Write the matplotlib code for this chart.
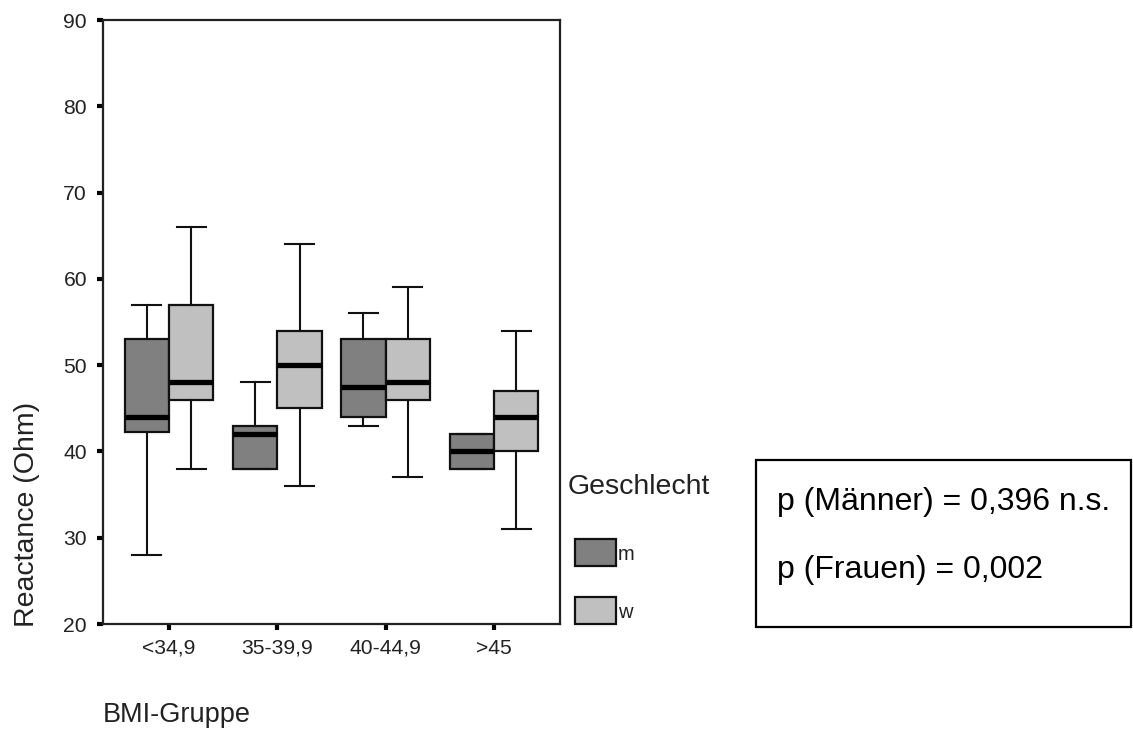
import numpy as np
import matplotlib.pyplot as plt
from matplotlib.patches import Rectangle

plt.rcParams['font.family'] = ['Liberation Sans', 'DejaVu Sans']

# BMI-Gruppen und Kennwerte der Boxplots (Reactance in Ohm)
gruppen = ['<34,9', '35-39,9', '40-44,9', '>45']

m_min = [28, 38, 43, 38]
m_q1 = [42.3, 38, 44, 38]
m_med = [44, 42, 47.5, 40]
m_q3 = [53, 43, 53, 42]
m_max = [57, 48, 56, 42]

w_min = [38, 36, 37, 31]
w_q1 = [46, 45, 46, 40]
w_med = [48, 50, 48, 44]
w_q3 = [57, 54, 53, 47]
w_max = [66, 64, 59, 54]

geschlecht = ['m', 'w']
farbe_m = '#808080'
farbe_w = '#c0c0c0'


def stats(lo, q1, med, q3, hi):
    return [dict(whislo=a, q1=b, med=c, q3=d, whishi=e, fliers=[])
            for a, b, c, d, e in zip(lo, q1, med, q3, hi)]


fig = plt.figure(figsize=(11.33, 7.34), dpi=100)
ax = fig.add_axes([103 / 1133, 1 - 624 / 734, 457 / 1133, 604 / 734])

x = np.arange(len(gruppen))
breite = 0.41
for werte, farbe, dx in [((m_min, m_q1, m_med, m_q3, m_max), farbe_m, -breite / 2),
                          ((w_min, w_q1, w_med, w_q3, w_max), farbe_w, breite / 2)]:
    ax.bxp(stats(*werte), positions=x + dx, widths=breite,
           capwidths=0.27, patch_artist=True, showfliers=False,
           boxprops=dict(facecolor=farbe, edgecolor='#111111', linewidth=1.6),
           medianprops=dict(color='black', linewidth=3.8, solid_capstyle='butt'),
           whiskerprops=dict(color='#111111', linewidth=1.5),
           capprops=dict(color='#111111', linewidth=1.5),
           manage_ticks=False)

ax.set_xlim(-0.61, 3.61)
ax.set_ylim(20, 90)
ax.set_yticks(range(20, 91, 10))
ax.set_xticks(x)
ax.set_xticklabels(gruppen)
ax.tick_params(axis='both', direction='out', length=4.5, width=3,
               color='black', labelsize=15.2, labelcolor='#222222')
ax.tick_params(axis='y', pad=7)
ax.tick_params(axis='x', pad=6)
for s in ax.spines.values():
    s.set_linewidth(1.6)
    s.set_color('#222222')

ax.set_ylabel('Reactance (Ohm)', fontsize=20.5, color='#222222', va='center')
ax.yaxis.set_label_coords(-0.166, 0.182)
ax.set_xlabel('BMI-Gruppe', fontsize=19.5, color='#222222', ha='left', va='center')
ax.xaxis.set_label_coords(0.0, -0.151)

# Legende Geschlecht
fig.text(568 / 1133, 1 - 487 / 734, 'Geschlecht', fontsize=20.5,
         color='#222222', ha='left', va='center')
for i, (name, farbe) in enumerate(zip(geschlecht, [farbe_m, farbe_w])):
    oben = 539 + i * 58
    fig.add_artist(Rectangle((575 / 1133, 1 - (oben + 27) / 734), 41 / 1133, 27 / 734,
                             transform=fig.transFigure, facecolor=farbe,
                             edgecolor='#111111', linewidth=1.6))
    fig.text(618 / 1133, 1 - (oben + 16) / 734, name, fontsize=14.5,
             color='#222222', ha='left', va='center')

# Kasten mit p-Werten
fig.add_artist(Rectangle((756 / 1133, 1 - 627 / 734), 375 / 1133, 167 / 734,
                         transform=fig.transFigure, fill=False,
                         edgecolor='black', linewidth=1.6))
fig.text(777 / 1133, 1 - 510 / 734, 'p (Männer) = 0,396 n.s.',
         fontsize=23, va='baseline', ha='left')
fig.text(777 / 1133, 1 - 578 / 734, 'p (Frauen) = 0,002',
         fontsize=23, va='baseline', ha='left')

fig.savefig('out.png', dpi=100)
